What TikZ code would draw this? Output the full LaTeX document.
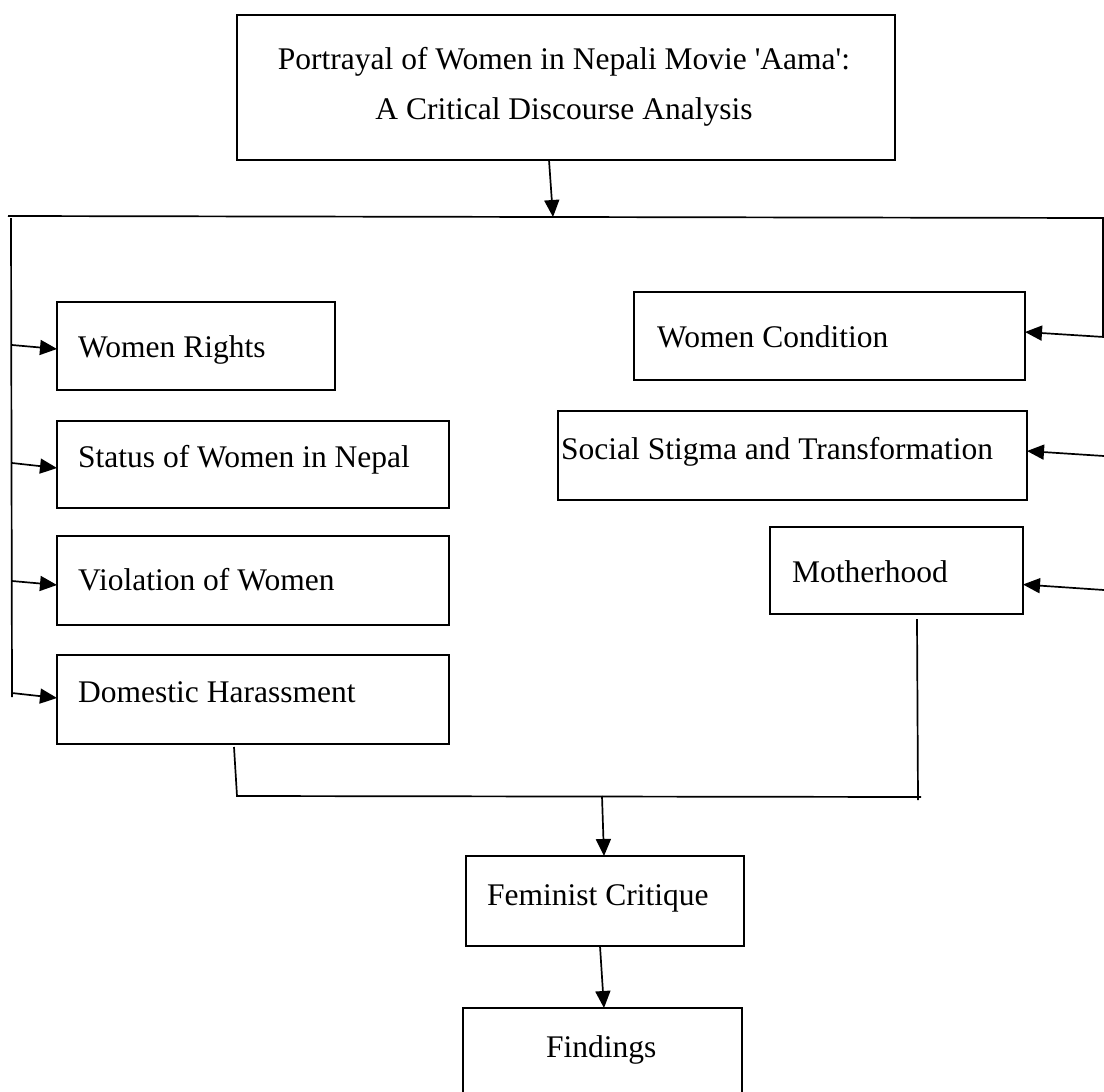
\documentclass[tikz,border=0pt]{standalone}
\usepackage{fontspec}
\setmainfont{Liberation Serif}
\usetikzlibrary{arrows.meta}

\tikzset{
  box/.style={draw, line width=2.4pt, inner sep=0pt, outer sep=0pt, anchor=north west},
  lbl/.style={inner sep=0pt, anchor=base west, font=\fontsize{31.5}{38}\selectfont},
  link/.style={line width=1.7pt},
  arr/.style={link, -{Triangle[length=17pt,width=15pt]}}
}

\begin{document}
\begin{tikzpicture}[x=1pt,y=-1pt]
\useasboundingbox (0,0) rectangle (1104,1092);

% boxes
\node[box, minimum width=658pt, minimum height=145pt] (title) at (237,15) {};
\node[box, minimum width=278pt, minimum height=88pt] (rights) at (57,302) {};
\node[box, minimum width=392pt, minimum height=87pt] (status) at (57,421) {};
\node[box, minimum width=392pt, minimum height=89pt] (violation) at (57,536) {};
\node[box, minimum width=392pt, minimum height=89pt] (domestic) at (57,655) {};
\node[box, minimum width=391pt, minimum height=88pt] (condition) at (634,292) {};
\node[box, minimum width=469pt, minimum height=89pt] (stigma) at (558,411) {};
\node[box, minimum width=253pt, minimum height=87pt] (mother) at (770,527) {};
\node[box, minimum width=278pt, minimum height=90pt] (critique) at (466,856) {};
\node[box, minimum width=279pt, minimum height=100pt] (findings) at (463,1008) {};

% texts
\node[lbl, anchor=base] (titleA) at (564,69) {Portrayal of Women in Nepali Movie \textquotesingle Aama\textquotesingle:};
\node[lbl, anchor=base] (titleB) at (564,119) {A Critical Discourse Analysis};
\node[lbl] (rightsT) at (78,357) {Women Rights};
\node[lbl] (statusT) at (78,467) {Status of Women in Nepal};
\node[lbl] (violationT) at (78,590) {Violation of Women};
\node[lbl] (domesticT) at (78,702) {Domestic Harassment};
\node[lbl] (conditionT) at (657,347) {Women Condition};
\node[lbl] (stigmaT) at (561,459) {Social Stigma and Transformation};
\node[lbl] (motherT) at (792,582) {Motherhood};
\node[lbl] (critiqueT) at (487,905) {Feminist Critique};
\node[lbl] (findingsT) at (546,1057) {Findings};

% upper bus
\coordinate (busL) at (8,216);
\coordinate (busR) at (1103,218);
\coordinate (busM) at (553,217);
\coordinate (leftTop) at (11,218);
\coordinate (leftBot) at (12,697);
\coordinate (rightBot) at (1103,337);
\draw[link] (busL) -- (busR) -- (rightBot);
\draw[link] (leftTop) -- (leftBot);
\draw[arr] ([xshift=-17pt]title.south) -- (busM);

% left side
\draw[arr] (12,345) -- ([yshift=-3pt]rights.west);
\draw[arr] (12,463) -- ([yshift=-3.5pt]status.west);
\draw[arr] (12,581) -- ([yshift=-4.5pt]violation.west);
\draw[arr] (12,693) -- ([yshift=1.5pt]domestic.west);

% right side
\draw[arr] (1104,337) -- ([yshift=4pt]condition.east);
\draw[arr] (1104,456) -- ([yshift=4.5pt]stigma.east);
\draw[arr] (1104,590) -- ([yshift=-14pt]mother.east);

% lower bus
\coordinate (domOut) at (234,747);
\coordinate (motherOut) at (917,619);
\coordinate (botL) at (237,796);
\coordinate (botR) at (921,797);
\coordinate (botM) at (602,796);
\draw[link] (domOut) -- (botL) -- (botR);
\draw[link] (motherOut) -- (918,800);
\draw[arr] (botM) -- ([xshift=-1pt]critique.north);
\draw[arr] ([xshift=-5pt]critique.south) -- ([xshift=1.5pt]findings.north);
\end{tikzpicture}
\end{document}
